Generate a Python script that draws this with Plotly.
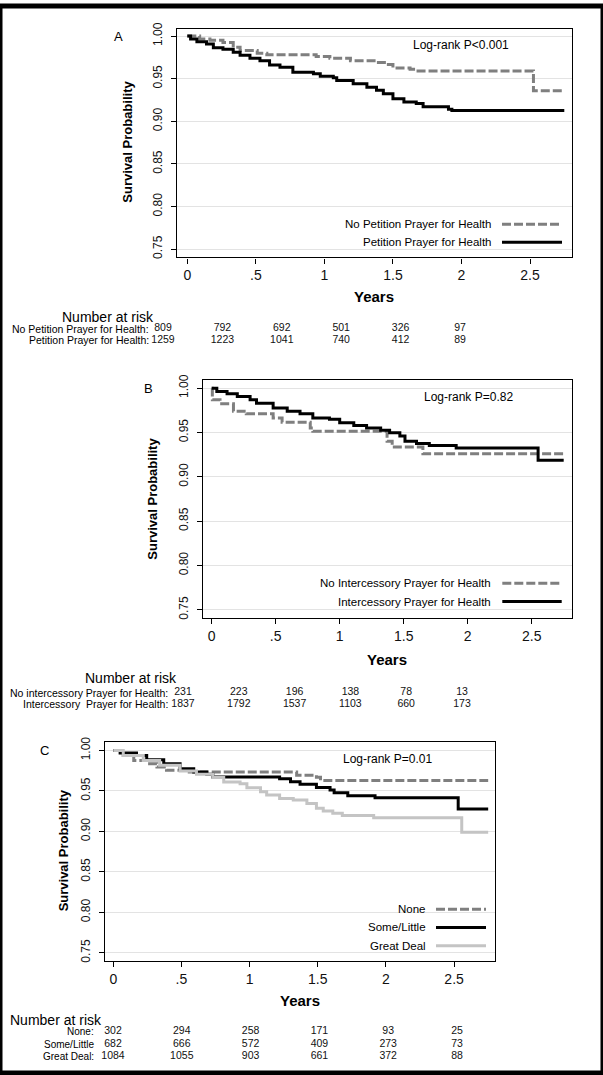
import plotly.graph_objects as go

# ---------------- DATA ----------------
years_ticks = [0, 0.5, 1, 1.5, 2, 2.5]
years_ticktext = ["0", ".5", "1", "1.5", "2", "2.5"]
surv_ticks = [0.75, 0.80, 0.85, 0.90, 0.95, 1.00]
surv_ticktext = ["0.75", "0.80", "0.85", "0.90", "0.95", "1.00"]

# Panel A
A_no_t = [0, 0.09, 0.165, 0.26, 0.335, 0.385, 0.51, 0.58, 0.94, 1.04, 1.19, 1.38, 1.455, 1.50, 1.625, 1.67, 2.525, 2.75]
A_no_s = [1.0, 0.9965, 0.995, 0.9926, 0.987, 0.983, 0.980, 0.978, 0.976, 0.974, 0.971, 0.969, 0.9666, 0.9627, 0.961, 0.9592, 0.936, 0.936]
A_yes_t = [0, 0.024, 0.07, 0.14, 0.19, 0.26, 0.335, 0.385, 0.457, 0.53, 0.60, 0.676, 0.77, 0.92, 0.97, 1.065, 1.09, 1.21, 1.31, 1.38, 1.43, 1.50, 1.58, 1.67, 1.72, 1.905, 1.93, 2.75]
A_yes_s = [1.0, 0.9965, 0.9934, 0.9907, 0.9864, 0.9845, 0.981, 0.9775, 0.974, 0.971, 0.966, 0.9635, 0.9577, 0.9557, 0.953, 0.951, 0.948, 0.944, 0.940, 0.9364, 0.9325, 0.9266, 0.9227, 0.9208, 0.917, 0.9142, 0.9127, 0.9127]

# Panel B
B_no_t = [0, 0.005, 0.065, 0.17, 0.27, 0.48, 0.55, 0.77, 0.79, 1.37, 1.41, 1.65, 2.75]
B_no_s = [1.0, 0.987, 0.9825, 0.974, 0.971, 0.9664, 0.9616, 0.955, 0.9515, 0.940, 0.9336, 0.926, 0.926]
B_yes_t = [0, 0.04, 0.12, 0.2, 0.3, 0.35, 0.48, 0.59, 0.69, 0.79, 0.92, 1.0, 1.11, 1.21, 1.32, 1.39, 1.47, 1.51, 1.60, 1.70, 1.91, 2.55, 2.75]
B_yes_s = [1.0, 0.9963, 0.9937, 0.9907, 0.987, 0.983, 0.9776, 0.974, 0.971, 0.9664, 0.965, 0.961, 0.958, 0.955, 0.9526, 0.9496, 0.9459, 0.940, 0.9377, 0.9354, 0.9325, 0.9187, 0.9187]

# Panel C
C_none_t = [0, 0.073, 0.15, 0.245, 0.32, 0.39, 0.54, 1.345, 1.49, 1.52, 2.75]
C_none_s = [1.0, 0.9939, 0.9877, 0.9837, 0.9796, 0.9755, 0.9734, 0.9694, 0.967, 0.963, 0.963]
C_some_t = [0, 0.05, 0.17, 0.245, 0.37, 0.49, 0.59, 0.685, 0.73, 1.22, 1.30, 1.37, 1.49, 1.59, 1.62, 1.72, 1.92, 2.53, 2.75]
C_some_s = [1.0, 0.9967, 0.9939, 0.9886, 0.9837, 0.9775, 0.9734, 0.9706, 0.9673, 0.9649, 0.9612, 0.9583, 0.9542, 0.951, 0.9477, 0.944, 0.9416, 0.9277, 0.9277]
C_great_t = [0, 0.073, 0.22, 0.34, 0.49, 0.61, 0.73, 0.81, 0.93, 0.98, 1.08, 1.125, 1.22, 1.32, 1.42, 1.49, 1.54, 1.61, 1.68, 1.91, 2.556, 2.75]
C_great_s = [1.0, 0.9939, 0.9877, 0.9816, 0.9747, 0.9706, 0.9665, 0.961, 0.959, 0.954, 0.949, 0.945, 0.9408, 0.9387, 0.9346, 0.9285, 0.9252, 0.9224, 0.9195, 0.917, 0.899, 0.899]

# Number at risk
risk_times = [0, 0.5, 1, 1.5, 2, 2.5]
A_risk_labels = ["No Petition Prayer for Health:", "Petition Prayer for Health:"]
A_risk_no = [809, 792, 692, 501, 326, 97]
A_risk_yes = [1259, 1223, 1041, 740, 412, 89]
B_risk_labels = ["No intercessory Prayer for Health:", "Intercessory  Prayer for Health:"]
B_risk_no = [231, 223, 196, 138, 78, 13]
B_risk_yes = [1837, 1792, 1537, 1103, 660, 173]
C_risk_labels = ["None:", "Some/Little", "Great Deal:"]
C_risk_none = [302, 294, 258, 171, 93, 25]
C_risk_some = [682, 666, 572, 409, 273, 73]
C_risk_great = [1084, 1055, 903, 661, 372, 88]

A_legend = ["No Petition Prayer for Health", "Petition Prayer for Health"]
B_legend = ["No Intercessory Prayer for Health", "Intercessory Prayer for Health"]
C_legend = ["None", "Some/Little", "Great Deal"]
pvals = ["Log-rank P<0.001", "Log-rank P=0.82", "Log-rank P=0.01"]

# ---------------- STYLE ----------------
W, H = 603, 1075
FONT = "Liberation Sans, Arial, sans-serif"
GRAY = "#7f7f7f"
BLACK = "#000000"
LIGHT = "#c4c4c4"
DASH = "9px,3px"
LW = 3

def px(x):
    return x / W

def py(y):
    return 1 - y / H

fig = go.Figure()

def step(x, y, xa, ya, color, dash=None):
    fig.add_trace(go.Scatter(x=x, y=y, mode="lines", line=dict(color=color, width=LW, dash=dash, shape="hv"),
                             xaxis=xa, yaxis=ya, showlegend=False, hoverinfo="skip"))

step(A_no_t, A_no_s, "x", "y", GRAY, DASH)
step(A_yes_t, A_yes_s, "x", "y", BLACK)
step(B_no_t, B_no_s, "x2", "y2", GRAY, DASH)
step(B_yes_t, B_yes_s, "x2", "y2", BLACK)
step(C_none_t, C_none_s, "x3", "y3", GRAY, DASH)
step(C_some_t, C_some_s, "x3", "y3", BLACK)
step(C_great_t, C_great_s, "x3", "y3", LIGHT)

def risk_row(vals, row, xa, ya):
    fig.add_trace(go.Scatter(x=risk_times, y=[row] * len(vals), mode="text", text=[str(v) for v in vals],
                             textfont=dict(family=FONT, size=10.5, color="#111"), textposition="middle center",
                             xaxis=xa, yaxis=ya, showlegend=False, hoverinfo="skip", cliponaxis=False))

risk_row(A_risk_no, A_risk_labels[0], "x4", "y4")
risk_row(A_risk_yes, A_risk_labels[1], "x4", "y4")
risk_row(B_risk_no, B_risk_labels[0], "x5", "y5")
risk_row(B_risk_yes, B_risk_labels[1], "x5", "y5")
risk_row(C_risk_none, C_risk_labels[0], "x6", "y6")
risk_row(C_risk_some, C_risk_labels[1], "x6", "y6")
risk_row(C_risk_great, C_risk_labels[2], "x6", "y6")

def xaxis(domain, rng):
    return dict(domain=domain, range=rng, tickvals=years_ticks, ticktext=years_ticktext, ticks="outside",
                ticklen=5, tickcolor="#000", showline=True, linecolor="#000", linewidth=1.2, mirror=True,
                showgrid=False, zeroline=False, tickfont=dict(family=FONT, size=14, color="#111"))

def yaxis(domain, rng):
    return dict(domain=domain, range=rng, tickvals=surv_ticks, ticktext=surv_ticktext, ticks="outside",
                ticklen=5, tickcolor="#000", showline=True, linecolor="#000", linewidth=1.2, mirror=True,
                showgrid=True, gridcolor="#e3e3e3", gridwidth=1, zeroline=False, tickangle=-90,
                ticklabelstandoff=4, tickfont=dict(family=FONT, size=12, color="#111"))

def hidden(domain, rng, **kw):
    d = dict(domain=domain, range=rng, visible=False, fixedrange=True)
    d.update(kw)
    return d

layout = dict(
    width=W, height=H, margin=dict(l=0, r=0, t=0, b=0),
    paper_bgcolor="white", plot_bgcolor="white", showlegend=False,
    xaxis=xaxis([px(177.3), px(571.7)], [-0.073, 2.804]),
    yaxis=yaxis([py(253.3), py(22.7)], [0.7403, 1.0089]),
    xaxis2=xaxis([px(202.7), px(571.7)], [-0.0703, 2.8125]),
    yaxis2=yaxis([py(616.7), py(376.7)], [0.7406, 1.0093]),
    xaxis3=xaxis([px(105), px(495)], [-0.0609, 2.800]),
    yaxis3=yaxis([py(962.3), py(741.7)], [0.7398, 1.0102]),
    xaxis4=hidden([0, 1], [-163 / 118.8, (603 - 163) / 118.8]),
    yaxis4=hidden([py(343), py(319)], [1.5, -0.5], type="category", categoryorder="array", categoryarray=A_risk_labels),
    xaxis5=hidden([0, 1], [-183 / 111.6, (603 - 183) / 111.6]),
    yaxis5=hidden([py(709.25), py(686.25)], [1.5, -0.5], type="category", categoryorder="array", categoryarray=B_risk_labels),
    xaxis6=hidden([0, 1], [-113 / 137.6, (603 - 113) / 137.6]),
    yaxis6=hidden([py(1064.5), py(1027)], [2.5, -0.5], type="category", categoryorder="array", categoryarray=C_risk_labels),
)
for i in range(2, 7):
    layout[f"xaxis{i}"]["anchor"] = f"y{i}"
    layout[f"yaxis{i}"]["anchor"] = f"x{i}"
layout["xaxis"]["anchor"] = "y"
layout["yaxis"]["anchor"] = "x"
fig.update_layout(**layout)

ann = []
shapes = []

def text(x, y, s, size=12, bold=False, xanchor="center", angle=0):
    ann.append(dict(x=x, y=y, xref="paper", yref="paper", text=(f"<b>{s}</b>" if bold else s), showarrow=False,
                    xanchor=xanchor, yanchor="middle", textangle=angle,
                    font=dict(family=FONT, size=size, color="#000")))

# Panel letters
text(px(118), py(31), "A", 13)
text(px(148), py(385), "B", 13)
text(px(45), py(750), "C", 13)
# Log-rank
text(px(461), py(39), pvals[0], 12)
text(px(468), py(394), pvals[1], 12)
text(px(387), py(759), pvals[2], 12)
# Axis titles
text(px(128), py(136.7), "Survival Probability", 13, True, angle=-90)
text(px(151.7), py(496.7), "Survival Probability", 13, True, angle=-90)
text(px(63), py(850.7), "Survival Probability", 13, True, angle=-90)
text(px(374), py(293), "Years", 15, True)
text(px(386.7), py(658.3), "Years", 15, True)
text(px(300), py(1002.3), "Years", 15, True)

# Legends
def leg_line(x0, x1, y, color, dash):
    shapes.append(dict(type="line", xref="paper", yref="paper", x0=x0, x1=x1, y0=y, y1=y,
                       line=dict(color=color, width=LW, dash=dash)))

shapes.append(dict(type="rect", xref="paper", yref="paper", x0=px(367), x1=px(494), y0=py(958), y1=py(899),
                   fillcolor="white", line=dict(width=0), layer="between"))

text(px(493), py(220), A_legend[0], 11.5, xanchor="right")
text(px(493), py(238), A_legend[1], 11.5, xanchor="right")
leg_line(px(502), px(562), py(220), GRAY, DASH)
leg_line(px(502), px(562), py(238), BLACK, None)

text(px(493.3), py(581.7), B_legend[0], 11.5, xanchor="right")
text(px(493.3), py(600), B_legend[1], 11.5, xanchor="right")
leg_line(px(502.3), px(561.7), py(581.7), GRAY, DASH)
leg_line(px(502.3), px(561.7), py(600), BLACK, None)

text(px(428), py(910), C_legend[0], 11.5, xanchor="right")
text(px(428), py(928.3), C_legend[1], 11.5, xanchor="right")
text(px(428), py(946.7), C_legend[2], 11.5, xanchor="right")
leg_line(px(436), px(486), py(910), GRAY, DASH)
leg_line(px(436), px(486), py(928.3), BLACK, None)
leg_line(px(436), px(486), py(946.7), LIGHT, None)

# Risk tables
text(px(60), py(313), "Number at risk", 14, xanchor="left")
text(px(151), py(325), A_risk_labels[0], 10.5, xanchor="right")
text(px(151), py(337), A_risk_labels[1], 10.5, xanchor="right")
text(px(83), py(677), "Number at risk", 14, xanchor="left")
text(px(170), py(692), B_risk_labels[0], 10.5, xanchor="right")
text(px(170), py(703), B_risk_labels[1], 10.5, xanchor="right")
text(px(8), py(1022), "Number at risk", 14, xanchor="left")
text(px(96), py(1033), C_risk_labels[0], 10, xanchor="right")
text(px(96), py(1046), C_risk_labels[1], 10, xanchor="right")
text(px(96), py(1058), C_risk_labels[2], 10, xanchor="right")

# Outer frame
shapes.append(dict(type="rect", xref="paper", yref="paper", x0=0, x1=1, y0=0, y1=1,
                   line=dict(color="#000", width=5), fillcolor="rgba(0,0,0,0)", layer="above"))

fig.update_layout(annotations=ann, shapes=shapes)
fig.write_html("out.html", config={"displayModeBar": False},
               post_script="document.body.style.margin='0px';document.body.style.overflow='hidden';")
